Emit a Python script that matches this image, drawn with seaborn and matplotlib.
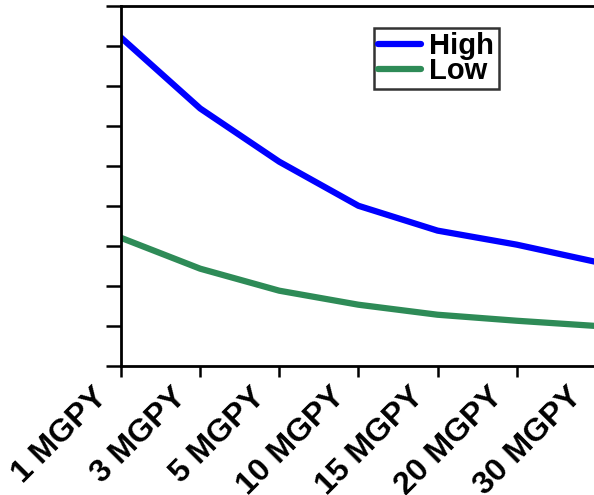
import matplotlib
matplotlib.use("Agg")
import matplotlib.pyplot as plt
import matplotlib.transforms as mtransforms
import pandas as pd
import seaborn as sns

categories = ["1 MGPY", "3 MGPY", "5 MGPY", "10 MGPY", "15 MGPY", "20 MGPY", "30 MGPY"]
high = [8.2, 6.43, 5.1, 4.0, 3.38, 3.03, 2.6]
low = [3.2, 2.43, 1.88, 1.53, 1.28, 1.13, 1.0]
series_names = ["High", "Low"]
colors = {"High": "#0000FF", "Low": "#2E8B57"}


def main():
    sns.set_style("ticks")
    plt.rcParams["font.family"] = ["Liberation Sans", "DejaVu Sans"]
    plt.rcParams["font.weight"] = "bold"
    plt.rcParams["text.color"] = "black"
    plt.rcParams["xtick.color"] = "black"
    plt.rcParams["ytick.color"] = "black"
    plt.rcParams["axes.edgecolor"] = "black"

    df = pd.DataFrame({
        "Size": categories * 2,
        "Value": high + low,
        "Series": [series_names[0]] * len(categories) + [series_names[1]] * len(categories),
    })

    fig = plt.figure(figsize=(5.94, 4.95), dpi=100)
    ax = fig.add_axes([121 / 594, 1 - 366 / 495, 1 - 121 / 594 + 0.003, (366 - 5.5) / 495])

    sns.lineplot(data=df, x="Size", y="Value", hue="Series", palette=colors,
                 linewidth=4.5, ax=ax, sort=False)

    ax.set_xlim(0, len(categories) - 1)
    ax.set_ylim(0, 9)
    ax.set_yticks(range(10))
    ax.set_yticklabels([])
    ax.set_xlabel("")
    ax.set_ylabel("")

    ax.tick_params(axis="y", length=11, width=1.8)
    ax.tick_params(axis="x", length=8, width=1.8, pad=2)
    for side in ["left", "bottom", "top", "right"]:
        ax.spines[side].set_visible(True)
        ax.spines[side].set_linewidth(2)

    ax.set_xticks(range(len(categories)))
    ax.set_xticklabels(categories, rotation=45, ha="right", rotation_mode="anchor",
                       fontsize=23, fontweight="bold")
    # labels sit a bit left of their ticks in the original
    shift = mtransforms.ScaledTranslation(-0.29, -0.02, fig.dpi_scale_trans)
    for lab in ax.get_xticklabels():
        lab.set_transform(lab.get_transform() + shift)

    leg = ax.legend(loc="upper left", bbox_to_anchor=(374 / 594, 1 - 28 / 495),
                    bbox_transform=fig.transFigure, frameon=True, fancybox=False,
                    prop={"size": 21, "weight": "bold"}, handlelength=1.45,
                    handletextpad=0.3, labelspacing=-0.12, borderpad=0.15,
                    borderaxespad=0)
    leg.get_frame().set_edgecolor("black")
    leg.get_frame().set_linewidth(1.8)
    for line in leg.get_lines():
        line.set_linewidth(4.5)

    fig.savefig("out.png", dpi=100)


if __name__ == "__main__":
    main()
